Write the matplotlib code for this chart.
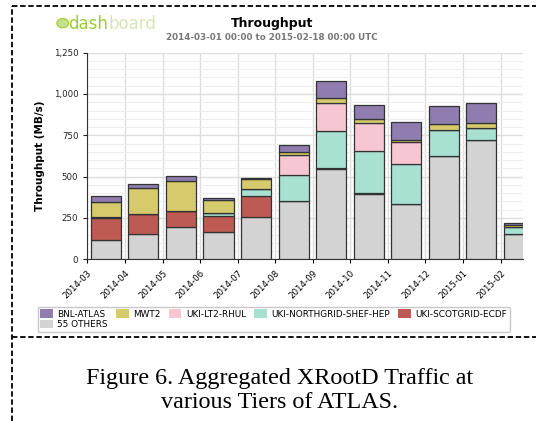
import matplotlib
matplotlib.use("Agg")
import matplotlib.pyplot as plt
from matplotlib.lines import Line2D
from matplotlib.patches import Patch, Circle
from matplotlib.ticker import FuncFormatter, MultipleLocator

months = ["2014-03", "2014-04", "2014-05", "2014-06", "2014-07", "2014-08",
          "2014-09", "2014-10", "2014-11", "2014-12", "2015-01", "2015-02"]

# throughput per site, MB/s (stacked bottom -> top)
others = [117, 153, 194, 163, 254, 351, 548, 397, 333, 623, 722, 153]
scotgrid_ecdf = [133, 121, 96, 99, 131, 0, 4, 4, 4, 4, 0, 0]
northgrid_shef = [3, 3, 4, 16, 42, 159, 224, 254, 238, 155, 70, 41]
lt2_rhul = [0, 0, 0, 0, 0, 119, 171, 168, 133, 3, 0, 0]
mwt2 = [95, 153, 180, 79, 61, 22, 31, 24, 14, 32, 31, 12]
bnl_atlas = [33, 24, 28, 12, 6, 39, 101, 85, 107, 110, 124, 14]

series = [
    ("55 OTHERS", others, "#d3d3d3"),
    ("UKI-SCOTGRID-ECDF", scotgrid_ecdf, "#bd5a54"),
    ("UKI-NORTHGRID-SHEF-HEP", northgrid_shef, "#a8e0d2"),
    ("UKI-LT2-RHUL", lt2_rhul, "#f7c6d3"),
    ("MWT2", mwt2, "#d5ca6c"),
    ("BNL-ATLAS", bnl_atlas, "#8e7dae"),
]

fig = plt.figure(figsize=(5.36, 4.21), dpi=100)
ax = fig.add_axes([0.163, 0.384, 0.813, 0.491])

x = list(range(len(months)))
bottom = [0] * len(months)
handles = {}
for name, vals, color in series:
    ax.bar([i + 0.09 for i in x], vals, width=0.8, bottom=bottom, align="edge",
           color=color, edgecolor="#333333", linewidth=0.9, zorder=3)
    handles[name] = Patch(facecolor=color, edgecolor="none")
    bottom = [b + v for b, v in zip(bottom, vals)]

ax.set_xlim(0, 11.6)
ax.set_ylim(0, 1250)
ax.set_xticks(x)
ax.set_xticklabels(months, rotation=45, ha="right", rotation_mode="anchor", fontsize=6.2)
ax.yaxis.set_major_locator(MultipleLocator(250))
ax.yaxis.set_minor_locator(MultipleLocator(50))
ax.yaxis.set_major_formatter(FuncFormatter(lambda v, p: f"{int(v):,}"))
ax.tick_params(axis="y", labelsize=6.2, length=3, width=0.8, colors="#222222")
ax.tick_params(axis="y", which="minor", length=0)
ax.tick_params(axis="x", length=3, width=0.8)
ax.grid(True, axis="y", which="major", color="#dddddd", linewidth=1.0, zorder=0)
ax.grid(True, axis="y", which="minor", color="#eeeeee", linewidth=0.8, zorder=0)
ax.grid(True, axis="x", which="major", color="#dddddd", linewidth=1.0, zorder=0)
for s in ["top", "right"]:
    ax.spines[s].set_visible(False)
ax.spines["left"].set_color("#333333")
ax.spines["bottom"].set_color("#333333")
ax.set_ylabel("Throughput (MB/s)", fontsize=7.5, fontweight="bold", labelpad=6)

# legend, laid out row-wise
order = ["BNL-ATLAS", "55 OTHERS", "MWT2", "UKI-LT2-RHUL", "UKI-NORTHGRID-SHEF-HEP", "UKI-SCOTGRID-ECDF"]
fig.legend([handles[n] for n in order], order, ncol=5, loc="upper left",
           bbox_to_anchor=(0.062, 0.282), fontsize=6.4, frameon=True,
           handlelength=1.4, handleheight=1.1, handletextpad=0.5,
           columnspacing=0.95, labelspacing=0.1, borderpad=0.3,
           fancybox=True, edgecolor="#bbbbbb")

# header
fig.text(0.508, 0.945, "Throughput", ha="center", va="center", fontsize=9, fontweight="bold")
fig.text(0.508, 0.912, "2014-03-01 00:00 to 2015-02-18 00:00 UTC", ha="center", va="center",
         fontsize=6.3, fontweight="bold", color="#777777")
fig.patches.append(Circle((0.117, 0.945), 0.011, transform=fig.transFigure,
                          facecolor="#c4e08a", edgecolor="#9acd32", linewidth=0.8))
dash = fig.text(0.128, 0.943, "dash", ha="left", va="center", fontsize=12, color="#9acd32")
fig.canvas.draw()
bb = dash.get_window_extent().transformed(fig.transFigure.inverted())
fig.text(bb.x1, 0.943, "board", ha="left", va="center", fontsize=12, color="#d7e6b8")

# dashed page frame
kw = dict(color="black", linestyle=(0, (3, 1.5)), linewidth=1.3, transform=fig.transFigure)
fig.add_artist(Line2D([0.022, 1.0], [0.986, 0.986], **kw))
fig.add_artist(Line2D([0.022, 0.022], [0.0, 0.986], **kw))
fig.add_artist(Line2D([0.022, 1.0], [0.199, 0.199], **kw))

# caption
fig.text(0.522, 0.102, "Figure 6. Aggregated XRootD Traffic at", ha="center", va="center",
         fontsize=17.4, family="Liberation Serif")
fig.text(0.522, 0.043, "various Tiers of ATLAS.", ha="center", va="center",
         fontsize=17.4, family="Liberation Serif")

fig.savefig("out.png", dpi=100)
